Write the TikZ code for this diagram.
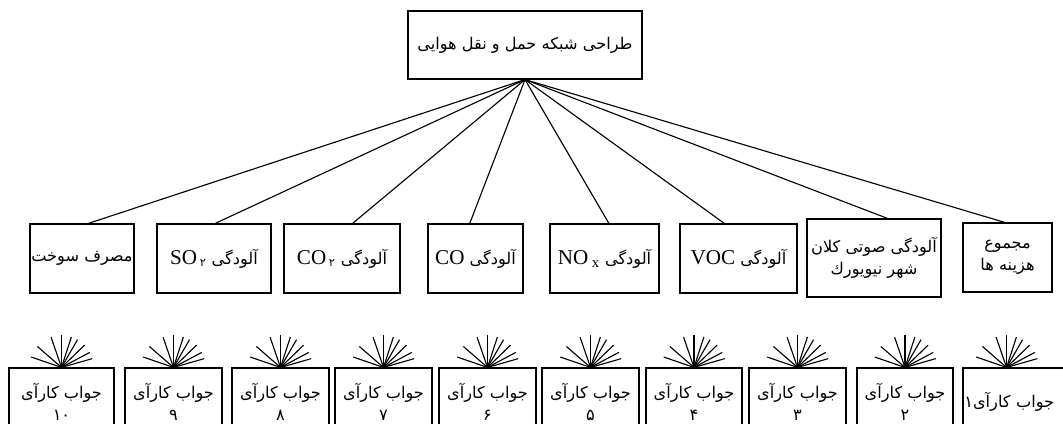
\documentclass[tikz,border=0pt]{standalone}
\usepackage{fontspec}
\setmainfont{Liberation Serif}
\newfontfamily\fa[Script=Arabic]{DejaVu Sans}
\TeXXeTstate=1
\usetikzlibrary{calc}
\tikzset{
  box/.style={draw, line width=0.8pt, font=\fa\fontsize{11.5}{16}\selectfont,
    align=center, inner sep=1pt, minimum height=1.725cm},
  link/.style={line width=0.8pt},
}
%% latin part of a label
\newcommand{\lat}[1]{{\rmfamily\fontsize{15}{16}\selectfont #1}}
%% rays over an answer box
\newcommand{\sunfan}[1]{%
  \foreach \ang in {161,139,109,90,72,60,44,28,16}
    \draw[link] (#1) -- ++(\ang:0.8cm);}

\begin{document}
\begin{tikzpicture}[x=0.025cm,y=-0.025cm]
  \useasboundingbox (0,0) rectangle (1063,423);
  \clip (0,0) rectangle (1063,423);
  %% goal
  \node[box, minimum width=5.85cm, minimum height=1.7cm] (plan) at (525,45)
    {\beginR طراحی شبکه حمل و نقل هوایی\endR};
  %% criteria
  \node[box, minimum width=2.6cm] (fuel) at (82,258.5) {\beginR مصرف سوخت\endR};
  \node[box, minimum width=2.85cm] (sox) at (214,258.5)
    {\beginR آلودگی \beginL\lat{SO}\,\textsubscript{۲}\endL\endR};
  \node[box, minimum width=2.9cm] (cox) at (342,258.5)
    {\beginR آلودگی \beginL\lat{CO}\,\textsubscript{۲}\endL\endR};
  \node[box, minimum width=2.375cm] (co) at (475.5,258.5)
    {\beginR آلودگی \beginL\lat{CO}\endL\endR};
  \node[box, minimum width=2.725cm] (nox) at (604.5,258.5)
    {\beginR آلودگی \beginL\lat{NO\,\textsubscript{x}}\endL\endR};
  \node[box, minimum width=2.925cm] (voc) at (738.5,258.5)
    {\beginR آلودگی \beginL\lat{VOC}\endL\endR};
  \node[box, minimum width=3.35cm, minimum height=1.95cm] (noise) at (874,258)
    {\beginR آلودگی صوتی کلان\endR\\\beginR شهر نیویورك\endR};
  \node[box, minimum width=2.225cm] (cost) at (1007.5,257.5)
    {\beginR مجموع\endR\\\beginR هزینه ها\endR};
  \foreach \n/\f in {fuel/0.56, sox/0.51, cox/0.59, co/0.44, nox/0.54,
      voc/0.38, noise/0.6, cost/0.47}
    \draw[link] (plan.south) -- ($(\n.north west)!\f!(\n.north east)$);
  %% answers
  \foreach \k/\x/\w/\num in {10/61.5/2.625/۱۰, 9/173.5/2.425/۹, 8/280.5/2.425/۸,
      7/383.5/2.425/۷, 6/487.5/2.425/۶, 5/590.5/2.425/۵, 4/694/2.4/۴,
      3/797.5/2.425/۳, 2/905/2.4/۲}
  {
    \node[box, minimum width=\w cm, minimum height=1.7cm] (ans\k) at (\x,402)
      {\beginR جواب کارآی\endR\\\num};
    \sunfan{ans\k.north}
  }
  \node[box, minimum height=1.7cm, align=left, text width=2.73cm] (ans1) at (1019,402)
    {\beginR جواب کارآی\kern0pt ۱\endR};
  \coordinate (ans1top) at ($(ans1.north west)!0.39!(ans1.north east)$);
  \sunfan{ans1top}
\end{tikzpicture}
\end{document}
